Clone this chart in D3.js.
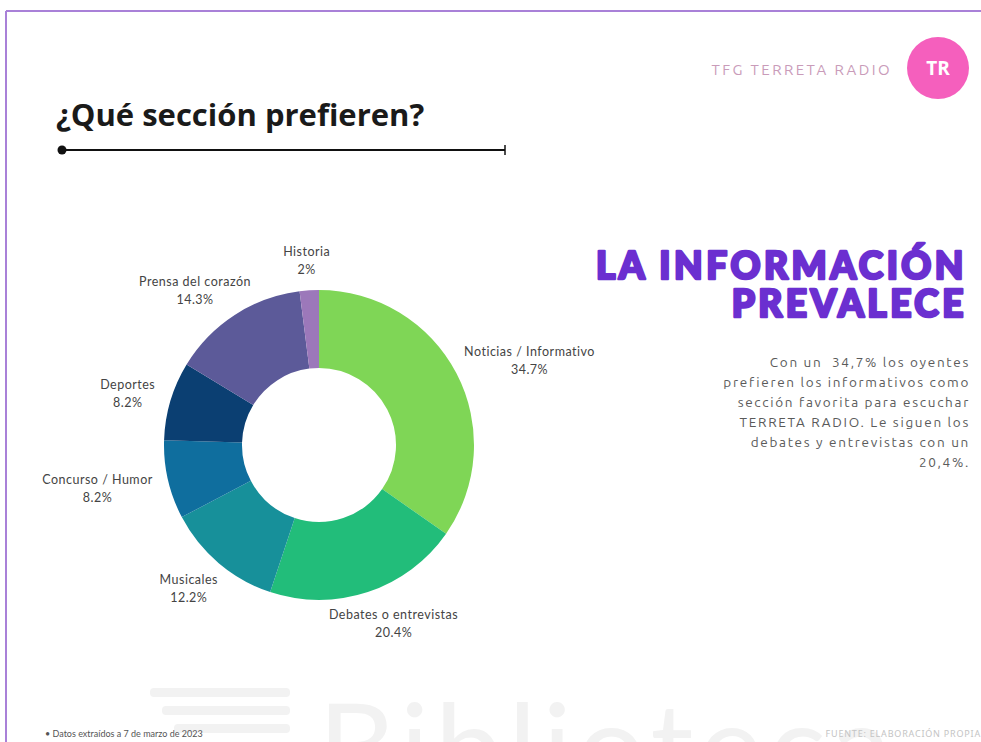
<!DOCTYPE html>
<html>
<head>
<meta charset="utf-8">
<script src="https://cdn.jsdelivr.net/npm/d3@7"></script>
<style>
  body { margin: 0; background: #fff; }
  svg { display: block; }
</style>
</head>
<body>
<svg id="chart" width="981" height="742"></svg>
<script>
// data
const sections = ["Noticias / Informativo", "Debates o entrevistas", "Musicales", "Concurso / Humor", "Deportes", "Prensa del corazón", "Historia"];
const shares = [34.7, 20.4, 12.2, 8.2, 8.2, 14.3, 2];
const shareLabels = ["34.7%", "20.4%", "12.2%", "8.2%", "8.2%", "14.3%", "2%"];
const sliceColors = ["#7fd656", "#22bd7a", "#17909a", "#0f6e9e", "#0b3f72", "#5c5a99", "#9c78ba"];
const bodyLines = ["Con un  34,7% los oyentes", "prefieren los informativos como", "sección favorita para escuchar", "TERRETA RADIO. Le siguen los", "debates y entrevistas con un", "20,4%."];

const svg = d3.select("#chart");

// slide frame
svg.append("line").attr("x1", 6).attr("y1", 11).attr("x2", 981).attr("y2", 11)
    .attr("stroke", "#a981d8").attr("stroke-width", 2);
svg.append("line").attr("x1", 6).attr("y1", 11).attr("x2", 6).attr("y2", 742)
    .attr("stroke", "#a981d8").attr("stroke-width", 2);

// watermark (faint)
const wm = svg.append("g").attr("fill", "#f2f2f2");
[0, 1, 2].forEach(function (i) {
    wm.append("rect").attr("x", 150 + i * 12).attr("y", 688 + i * 18)
        .attr("width", 140 - i * 12).attr("height", 9).attr("rx", 4);
});
wm.append("text").attr("x", 318).attr("y", 790)
    .attr("font-family", "Lato").attr("font-size", 120).attr("letter-spacing", 6)
    .text("Biblioteca");

// header
svg.append("text").attr("x", 892).attr("y", 75).attr("text-anchor", "end")
    .attr("font-family", "Ubuntu, 'Noto Sans', sans-serif").attr("font-size", 15)
    .attr("letter-spacing", 2.4).attr("fill", "#c99bb9")
    .text("TFG TERRETA RADIO");
svg.append("circle").attr("cx", 938).attr("cy", 68).attr("r", 31).attr("fill", "#f55fbd");
svg.append("text").attr("x", 938).attr("y", 75).attr("text-anchor", "middle")
    .attr("font-family", "'Open Sans', sans-serif").attr("font-weight", 700)
    .attr("font-size", 19).attr("fill", "#fff").text("TR");

svg.append("text").attr("x", 56).attr("y", 126)
    .attr("font-family", "'Open Sans', sans-serif").attr("font-weight", 700)
    .attr("font-size", 31).attr("fill", "#1a1a1a")
    .text("¿Qué sección prefieren?");
svg.append("line").attr("x1", 62).attr("y1", 150).attr("x2", 505).attr("y2", 150)
    .attr("stroke", "#111").attr("stroke-width", 2);
svg.append("circle").attr("cx", 62).attr("cy", 150).attr("r", 4.5).attr("fill", "#111");
svg.append("line").attr("x1", 505).attr("y1", 145).attr("x2", 505).attr("y2", 155)
    .attr("stroke", "#111").attr("stroke-width", 1.5);

// donut
const cx = 319, cy = 445, rOuter = 155, rInner = 77, rLabel = 172;
const pie = d3.pie().sort(null).value(function (d) { return d; });
const arcs = pie(shares);
const arc = d3.arc().innerRadius(rInner).outerRadius(rOuter);

const g = svg.append("g").attr("transform", "translate(" + cx + "," + cy + ")");
g.selectAll("path.slice")
    .data(arcs)
    .enter()
    .append("path")
    .attr("class", "slice")
    .attr("d", arc)
    .attr("fill", function (d, i) { return sliceColors[i]; });

// labels pushed outward so their nearest edge sits on rLabel
const lab = g.selectAll("g.lab")
    .data(arcs)
    .enter()
    .append("g")
    .attr("class", "lab");
lab.append("text").attr("class", "name")
    .attr("text-anchor", "middle").attr("font-family", "Lato, sans-serif")
    .attr("font-size", 12.5).attr("letter-spacing", 0.5).attr("fill", "#444")
    .text(function (d, i) { return sections[i]; });
lab.append("text").attr("class", "val")
    .attr("text-anchor", "middle").attr("font-family", "Lato, sans-serif")
    .attr("font-size", 12.5).attr("letter-spacing", 0.5).attr("fill", "#444").attr("y", 18)
    .text(function (d, i) { return shareLabels[i]; });
lab.each(function (d) {
    const node = d3.select(this);
    const w = node.node().getBBox().width;
    const h = 28;
    const a = (d.startAngle + d.endAngle) / 2;
    const dx = Math.sin(a), dy = -Math.cos(a);
    const px = dx * rLabel + dx * w / 2;
    const py = dy * rLabel + dy * h / 2;
    node.attr("transform", "translate(" + px + "," + (py - 3) + ")");
});

// right-hand block
const head = svg.append("g").attr("font-family", "Lato, sans-serif").attr("font-weight", 900)
    .attr("fill", "#6b2fd0").attr("stroke", "#6b2fd0").attr("stroke-width", 2.6)
    .attr("stroke-linejoin", "round")
    .attr("text-anchor", "end").attr("font-size", 37)
    .attr("letter-spacing", 3.5);
head.append("text").attr("x", 967).attr("y", 279).text("LA INFORMACIÓN");
head.append("text").attr("x", 967).attr("y", 317).text("PREVALECE");

svg.append("g").selectAll("text")
    .data(bodyLines)
    .enter()
    .append("text")
    .attr("x", 970)
    .attr("y", function (d, i) { return 367 + i * 20; })
    .attr("text-anchor", "end")
    .style("white-space", "pre")
    .attr("font-family", "Ubuntu, 'Noto Sans', sans-serif")
    .attr("font-size", 13.5).attr("letter-spacing", 1.7).attr("fill", "#5a5a5a")
    .text(function (d) { return d; });

// footer
svg.append("text").attr("x", 45).attr("y", 737)
    .attr("font-family", "Lato, sans-serif").attr("font-size", 9).attr("fill", "#555")
    .text("• Datos extraídos a 7 de marzo de 2023");
svg.append("text").attr("x", 981).attr("y", 737).attr("text-anchor", "end")
    .attr("font-family", "'Noto Sans', sans-serif").attr("font-size", 9)
    .attr("letter-spacing", 0.8).attr("fill", "#c4c4c4")
    .text("FUENTE: ELABORACIÓN PROPIA");
</script>
</body>
</html>
